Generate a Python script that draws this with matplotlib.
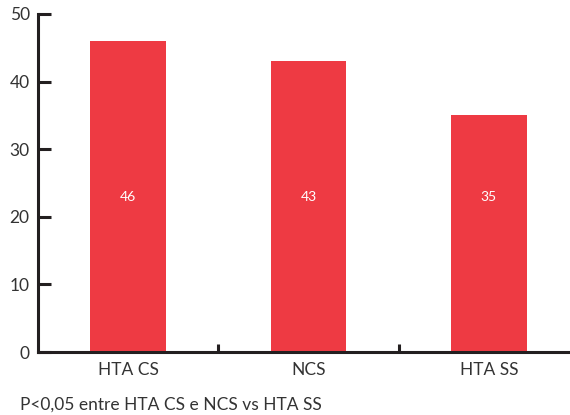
import matplotlib
matplotlib.use('Agg')
import matplotlib.pyplot as plt

categories = ['HTA CS', 'NCS', 'HTA SS']
values = [46, 43, 35]
yticks = [0, 10, 20, 30, 40, 50]
note = 'P<0,05 entre HTA CS e NCS vs HTA SS'

plt.rcParams['font.family'] = ['Lato', 'DejaVu Sans']
dark = '#231f20'
red = '#ee3a43'

fig = plt.figure(figsize=(5.7, 4.15), dpi=100)
ax = fig.add_axes([38 / 570, 63 / 415, 1 - 38 / 570, 338 / 415])

x = range(len(categories))
bars = ax.bar(x, values, width=0.42, color=red, zorder=2)
for b, v in zip(bars, values):
    ax.text(b.get_x() + b.get_width() / 2, 23, str(v), color='white',
            ha='center', va='center', fontsize=10)

ax.set_xlim(-0.5, 2.45)
ax.set_ylim(0, 50)
ax.set_yticks(yticks)
ax.set_xticks(list(x))
ax.set_xticklabels(categories)
ax.set_xticks([0.5, 1.5], minor=True)

for s in ['top', 'right']:
    ax.spines[s].set_visible(False)
for s in ['left', 'bottom']:
    ax.spines[s].set_color(dark)
    ax.spines[s].set_linewidth(2.2)

ax.tick_params(axis='y', direction='in', length=9.5, width=2.2, color=dark,
               labelsize=12.5, labelcolor='#333333', pad=6)
ax.tick_params(axis='x', which='major', length=0, labelsize=12.5,
               labelcolor='#333333', pad=7)
ax.tick_params(axis='x', which='minor', direction='in', length=6, width=2.2,
               color=dark)

fig.text(20 / 570, 1 - 405 / 415, note, fontsize=12.5, color='#333333',
         ha='left', va='center')

fig.savefig('out.png', dpi=100)
